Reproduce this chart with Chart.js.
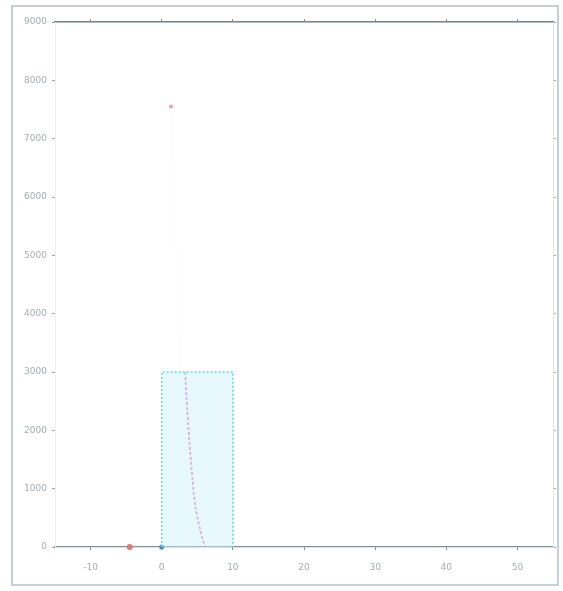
<!DOCTYPE html>
<html><head><meta charset="utf-8">
<script src="https://cdn.jsdelivr.net/npm/chart.js@4"></script>
<style>html,body{margin:0;padding:0;background:#fff}#wrap{width:563px;height:591px}</style>
</head><body><div id="wrap"><canvas id="c" width="563" height="591"></canvas></div>
<script>
const xTicks = [-10, 0, 10, 20, 30, 40, 50];
const yTicks = [0, 1000, 2000, 3000, 4000, 5000, 6000, 7000, 8000, 9000];
const boxX = [0, 0, 10, 10];
const boxY = [0, 3000, 3000, 0];
const curveX = [3.3, 3.5, 4.1, 4.6, 5.1, 5.8, 6.2];
const curveY = [3000, 2520, 1490, 810, 460, 120, 0];
const faintX = [1.3, 2.0, 2.6];
const faintY = [7550, 5200, 3000];
const redPtX = [-4.5];
const redPtY = [0];
const bluePtX = [0];
const bluePtY = [0];

const pts = (xs, ys) => xs.map((x, i) => ({x: x, y: ys[i]}));
const labelColor = '#a4abb2';

const frame = {
  id: 'frame',
  beforeDraw(chart) {
    const ctx = chart.ctx;
    ctx.save();
    ctx.strokeStyle = '#b4c0c8';
    ctx.lineWidth = 1.5;
    ctx.strokeRect(12, 6, 546, 579);
    ctx.restore();
  }
};

new Chart(document.getElementById('c'), {
  type: 'scatter',
  data: {
    datasets: [
      { data: pts(boxX, boxY), showLine: true, fill: 'origin', backgroundColor: 'rgba(205,242,251,0.45)',
        borderColor: '#5fd6ef', borderWidth: 1.5, borderDash: [2, 2], pointRadius: 0, tension: 0, clip: false },
      { data: pts(curveX, curveY), showLine: true, fill: false, borderColor: '#e37ad8',
        borderWidth: 1.8, borderDash: [3, 2], pointRadius: 0, cubicInterpolationMode: 'monotone', clip: false },
      { data: pts(faintX, faintY), showLine: true, fill: false, borderColor: 'rgba(240,190,200,0.25)',
        borderWidth: 1, borderDash: [2, 6], pointRadius: [2, 0, 0], pointBackgroundColor: '#f3a0b0', pointBorderWidth: 0 },
      { data: pts(redPtX, redPtY), pointRadius: 3, pointBackgroundColor: '#e07a70', pointBorderWidth: 0, clip: false },
      { data: pts(bluePtX, bluePtY), pointRadius: 2.5, pointBackgroundColor: '#3a8ec0', pointBorderWidth: 0, clip: false }
    ]
  },
  options: {
    responsive: false,
    animation: false,
    devicePixelRatio: 1,
    layout: { padding: { left: 12, right: 0, top: 12, bottom: 0 } },
    plugins: { legend: { display: false }, tooltip: { enabled: false } },
    scales: {
      x: {
        type: 'linear', position: 'bottom', min: -15, max: 55,
        afterBuildTicks: s => { s.ticks = xTicks.map(v => ({value: v})); },
        afterFit: s => { s.height = 44; },
        grid: { drawOnChartArea: false, drawTicks: true, tickLength: 3, color: '#7a8a96' },
        border: { display: true, color: '#7d909c', width: 1.2 },
        ticks: { color: labelColor, font: { family: 'DejaVu Sans', size: 9 }, padding: 12, callback: v => String(v) }
      },
      x2: {
        type: 'linear', position: 'top', min: -15, max: 55,
        afterBuildTicks: s => { s.ticks = xTicks.map(v => ({value: v})); },
        afterFit: s => { s.height = 10; },
        grid: { drawOnChartArea: false, drawTicks: true, tickLength: 3, color: '#7a8a96' },
        border: { display: true, color: '#6e808c', width: 1.4 },
        ticks: { display: false }
      },
      y: {
        type: 'linear', position: 'left', min: 0, max: 9000,
        afterBuildTicks: s => { s.ticks = yTicks.map(v => ({value: v})); },
        afterFit: s => { s.width = 43; },
        grid: { drawOnChartArea: false, drawTicks: true, tickLength: 3, color: '#9aa4ac' },
        border: { display: true, color: '#eef1f3', width: 1 },
        ticks: { color: labelColor, font: { family: 'DejaVu Sans', size: 9 }, padding: 5, callback: v => String(v) }
      },
      y2: {
        type: 'linear', position: 'right', min: 0, max: 9000,
        afterBuildTicks: s => { s.ticks = yTicks.map(v => ({value: v})); },
        afterFit: s => { s.width = 10; },
        grid: { drawOnChartArea: false, drawTicks: true, tickLength: 3, color: '#9aa4ac' },
        border: { display: true, color: '#dfe5e9', width: 1 },
        ticks: { display: false }
      }
    }
  },
  plugins: [frame]
});
</script>
</body></html>
